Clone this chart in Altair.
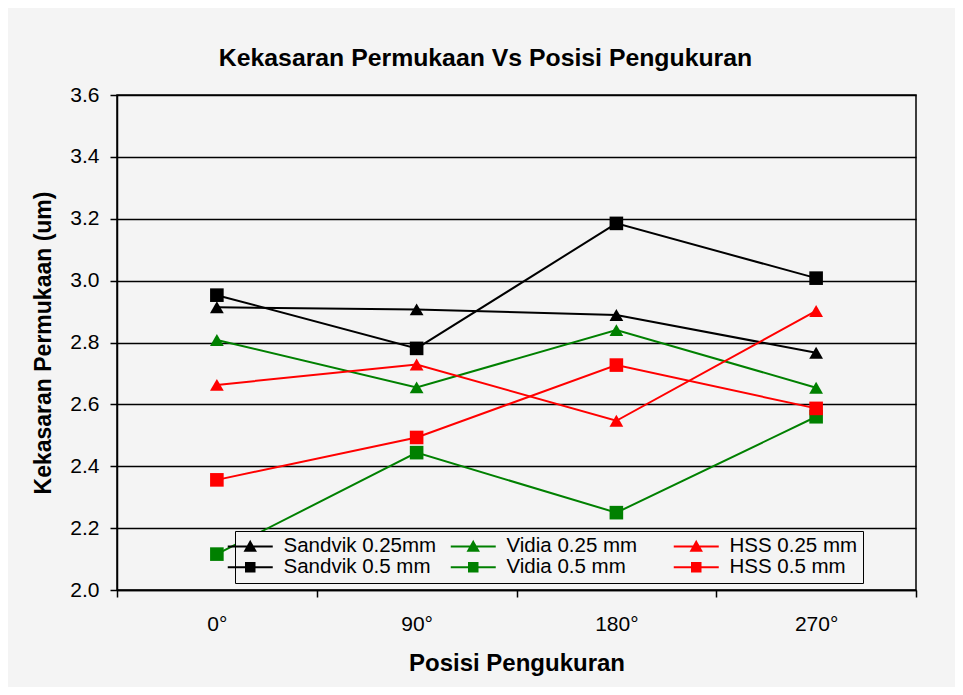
import altair as alt
import pandas as pd

# ---------------- data ----------------
positions = ["0°", "90°", "180°", "270°"]
series_names = ["Sandvik 0.25mm", "Vidia 0.25 mm", "HSS 0.25 mm",
                "Sandvik 0.5 mm", "Vidia 0.5 mm", "HSS 0.5 mm"]
series_markers = ["tri", "tri", "tri", "sq", "sq", "sq"]
series_colors = ["#000000", "#008000", "#ff0000", "#000000", "#008000", "#ff0000"]

sandvik_025 = [2.914, 2.907, 2.889, 2.767]
vidia_025 = [2.808, 2.655, 2.840, 2.654]
hss_025 = [2.663, 2.729, 2.547, 2.902]
sandvik_05 = [2.953, 2.781, 3.185, 3.008]
vidia_05 = [2.116, 2.444, 2.250, 2.560]
hss_05 = [2.356, 2.493, 2.727, 2.587]

y_ticks = [2.0, 2.2, 2.4, 2.6, 2.8, 3.0, 3.2, 3.4, 3.6]

series_values = [sandvik_025, vidia_025, hss_025, sandvik_05, vidia_05, hss_05]
rows = []
for name, marker, vals in zip(series_names, series_markers, series_values):
    for p, v in zip(positions, vals):
        rows.append({"pos": p, "series": name, "marker": marker, "value": v})
df = pd.DataFrame(rows)

# legend symbols: line segment + marker (custom svg paths, unit coords)
TRI = "M-4.5,0H4.5M0,-0.9L1,0.85L-1,0.85Z"
SQ = "M-4.5,0H4.5M-0.85,-0.85H0.85V0.85H-0.85Z"
legend_shapes = [TRI if m == "tri" else SQ for m in series_markers]

FONT = "Liberation Sans"

x_enc = alt.X("pos:N", sort=positions, bandPosition=0.5,
              scale=alt.Scale(type="band", paddingInner=0, paddingOuter=0),
              axis=alt.Axis(title="Posisi Pengukuran", labelAngle=0, tickBand="extent",
                            grid=False, labelPadding=16, titlePadding=17,
                            titleFontSize=24))
y_enc = alt.Y("value:Q",
              scale=alt.Scale(domain=[2.0, 3.6], nice=False, zero=False),
              axis=alt.Axis(title="Kekasaran Permukaan (um)", values=y_ticks, format=".1f",
                            grid=True, labelPadding=11, titlePadding=14,
                            titleFontSize=23))
color_scale = alt.Scale(domain=series_names, range=series_colors)

leg = alt.Legend(title=None, orient="none", direction="horizontal",
                 legendX=118, legendY=436,
                 columns=3, columnPadding=9, rowPadding=0, gridAlign="all",
                 symbolSize=100, symbolStrokeWidth=2,
                 labelFont=FONT, labelFontSize=20.5, labelColor="black",
                 labelOffset=23, labelLimit=400, padding=5,
                 fillColor="#f4f4f4", strokeColor="black")

base = alt.Chart(df).encode(
    x=x_enc, y=y_enc,
    color=alt.Color("series:N", scale=color_scale, legend=leg),
)

lines = base.mark_line(strokeWidth=2)
tris = base.transform_filter(alt.datum.marker == "tri").mark_point(
    shape="triangle-up", filled=True, size=190, opacity=1)
squares = base.transform_filter(alt.datum.marker == "sq").mark_point(
    shape="square", filled=True, size=185, opacity=1)

legend_layer = alt.Chart(df).transform_filter("false").mark_point(
    filled=True, size=100, opacity=1).encode(
    x=x_enc, y=y_enc,
    color=alt.Color("series:N", scale=color_scale, legend=leg),
    stroke=alt.Stroke("series:N", scale=alt.Scale(domain=series_names, range=series_colors), legend=leg),
    shape=alt.Shape("series:N", scale=alt.Scale(domain=series_names, range=legend_shapes), legend=leg),
)

chart = alt.layer(lines, tris, squares, legend_layer).properties(
    width=799, height=495,
    padding={"left": 109, "top": 87, "right": 39, "bottom": 97},
    autosize=alt.AutoSizeParams(type="none"),
    background="#f4f4f4",
    title=alt.TitleParams("Kekasaran Permukaan Vs Posisi Pengukuran",
                          font=FONT, fontSize=24.8, fontWeight="bold", color="black",
                          anchor="middle", dx=-31, offset=13),
).configure_axis(
    labelFont=FONT, labelFontSize=21, labelColor="black",
    titleFont=FONT, titleFontWeight="bold", titleColor="black",
    domainColor="black", domainWidth=1.5, tickColor="black", tickWidth=1.5, tickSize=7,
    gridColor="black", gridWidth=1.5, gridOpacity=1,
).configure_view(
    stroke="black", strokeWidth=1.5, fill="#f4f4f4"
)

chart.save("out.html", embed_options={"renderer": "svg", "actions": False})
